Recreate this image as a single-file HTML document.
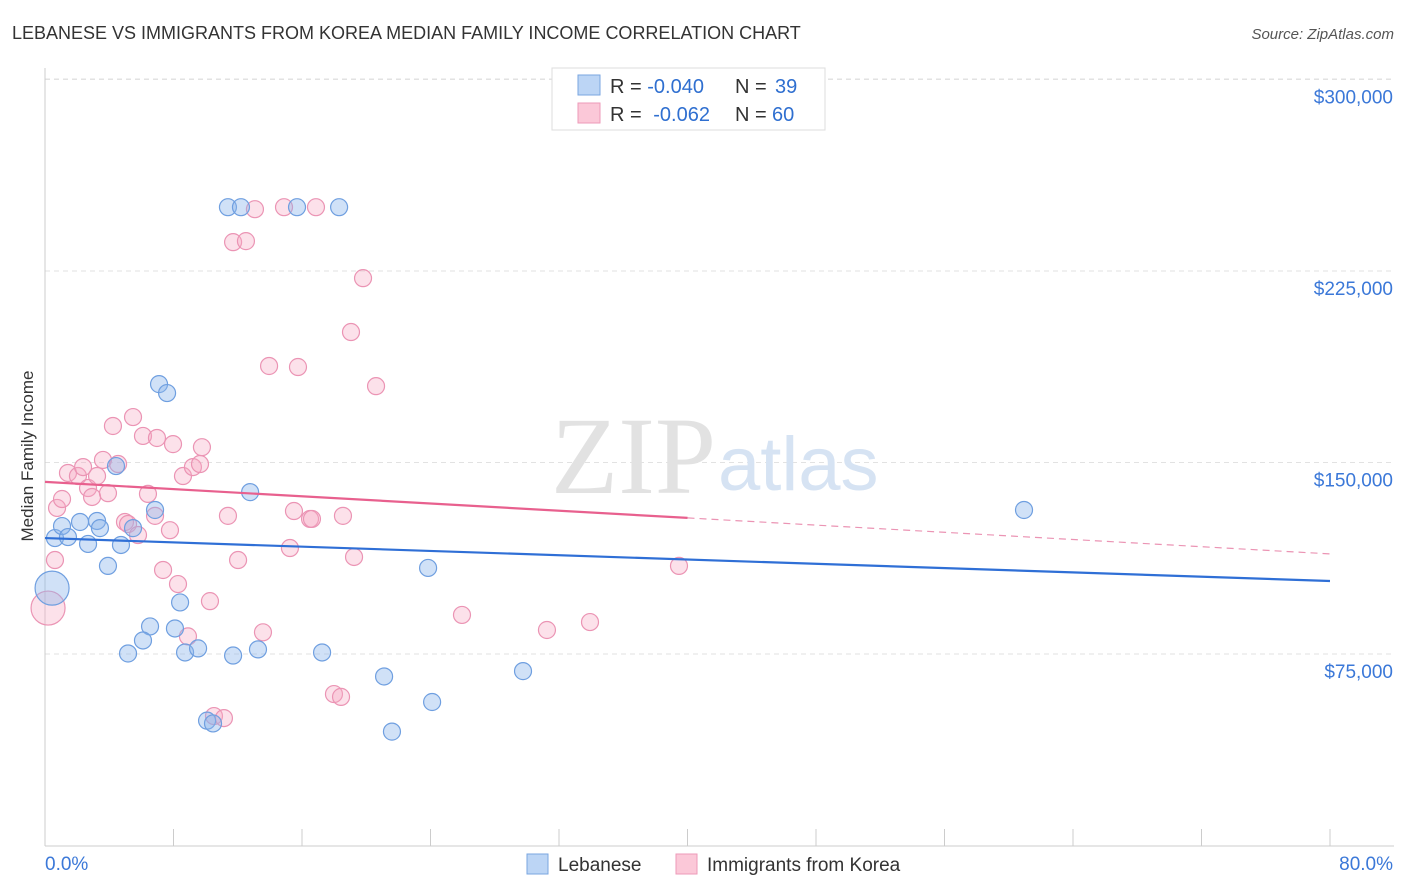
<!DOCTYPE html>
<html><head><meta charset="utf-8"><style>
body{margin:0;background:#fff;font-family:"Liberation Sans",sans-serif;}
svg{display:block}
</style></head><body>
<svg id="chart" width="1406" height="892">
<text x="12" y="39" font-size="18" fill="#333">LEBANESE VS IMMIGRANTS FROM KOREA MEDIAN FAMILY INCOME CORRELATION CHART</text>
<text x="1394" y="39" font-size="15" fill="#555" font-style="italic" text-anchor="end">Source: ZipAtlas.com</text>
<text x="33" y="456" font-size="17" fill="#333" text-anchor="middle" transform="rotate(-90 33 456)">Median Family Income</text>
<g id="grid"></g>
<text x="716" y="493" font-size="110" fill="#e2e2e2" text-anchor="end" font-family="Liberation Serif,serif">ZIP</text>
<text x="718" y="490" font-size="76" fill="#d6e3f3">atlas</text>
<g id="marks"></g>
<g>
<rect x="552" y="68" width="273" height="62" fill="#fff" stroke="#ddd"/>
<rect x="578" y="75" width="22" height="20" fill="#bcd5f5" stroke="#7aa6e0"/>
<rect x="578" y="103" width="22" height="20" fill="#fbc8d8" stroke="#ee9ab8"/>
<text x="610" y="93" font-size="20" fill="#333">R = <tspan fill="#2f6fd0">-0.040</tspan><tspan x="735">N = </tspan><tspan fill="#2f6fd0" x="775">39</tspan></text>
<text x="610" y="121" font-size="20" fill="#333">R = <tspan fill="#2f6fd0" dx="6">-0.062</tspan><tspan x="735">N = </tspan><tspan fill="#2f6fd0" x="772">60</tspan></text>
</g>
<g>
<rect x="527" y="854" width="21" height="20" fill="#bcd5f5" stroke="#7aa6e0"/>
<text x="558" y="871" font-size="19" fill="#333">Lebanese</text>
<rect x="676" y="854" width="21" height="20" fill="#fbc8d8" stroke="#ee9ab8"/>
<text x="707" y="871" font-size="19" fill="#333">Immigrants from Korea</text>
</g>
</svg>
<script>
const yTicks=[75000,150000,225000,300000];
const yTickLabels=["$75,000","$150,000","$225,000","$300,000"];
const xEndLabels=["0.0%","80.0%"];
const blueX=[0.44,0.62,1.06,1.43,2.18,2.68,3.24,3.42,3.92,4.42,4.73,5.48,6.54,6.10,5.17,6.85,7.10,7.60,8.09,8.41,8.72,9.53,10.09,10.46,11.39,12.20,11.71,12.77,13.26,15.69,17.25,18.31,21.11,21.60,23.85,24.10,29.76,60.95];
const blueY=[100800,120400,125100,120800,126700,118100,127100,124300,109500,148600,117700,124300,85800,80300,75200,131400,180700,177200,85000,95200,75600,77200,48900,47800,250000,250000,74400,138400,76800,250000,75600,250000,66200,44600,108700,56200,68300,131400];
const pinkX=[0.19,0.62,0.75,1.06,1.43,2.05,2.37,2.68,2.93,3.24,3.61,3.92,4.23,4.55,4.98,5.17,5.48,5.79,6.10,6.41,6.85,6.97,7.35,7.78,7.97,8.28,8.59,8.90,9.21,9.65,9.77,10.27,10.52,11.14,11.39,11.71,12.02,12.51,13.07,13.57,13.95,14.88,15.25,15.50,15.75,16.50,16.62,16.87,17.99,18.43,18.55,19.05,19.24,19.80,20.61,25.96,31.25,33.93,39.47];
const pinkY=[93000,111800,132200,135700,145900,144700,148200,140000,136500,144700,151000,138000,164300,149400,126700,125900,167800,121600,160400,137700,129100,159600,107900,123500,157200,102400,144700,81900,148200,149400,156000,95700,50700,49900,129100,236300,111800,236700,249200,83500,187800,250000,116500,131000,187400,127900,127900,250000,59300,58200,129100,201100,113000,222200,179900,90300,84400,87500,109500];
const blueTrend=[120400,103600];
const pinkTrend=[142400,114200];

const X0=45,X1=1330,Y0=845.5,PXPER=191.5/75000;
const sx=v=>X0+(v/80)*(X1-X0);
const sy=v=>Y0-v*PXPER;
const NS="http://www.w3.org/2000/svg";
const grid=document.getElementById('grid'),marks=document.getElementById('marks');
function mk(tag,attrs,parent){const e=document.createElementNS(NS,tag);for(const k in attrs)e.setAttribute(k,attrs[k]);parent.appendChild(e);return e;}
yTicks.forEach((t,i)=>{
 const l=mk('line',{x1:45,x2:1394,y1:sy(t),y2:sy(t),stroke:'#e2e2e2','stroke-dasharray':'5,4'},grid);
 
 
 const tx=mk('text',{x:1393,y:sy(t)+24,'font-size':19,fill:'#3b78d8','text-anchor':'end'},grid);
 tx.textContent=yTickLabels[i];
 
 
});
const topl=mk('line',{x1:45,x2:1394,y1:79,y2:79,stroke:'#e2e2e2','stroke-dasharray':'5,4'},grid);


const ya=mk('line',{x1:45,x2:45,y1:68,y2:846,stroke:'#ccc'},grid);


const xa=mk('line',{x1:45,x2:1394,y1:846,y2:846,stroke:'#ccc'},grid);


for(let i=0;i<=10;i++){
 const t=mk('line',{x1:sx(i*8),x2:sx(i*8),y1:829,y2:846,stroke:'#ccc'},grid);
 
 
}
const xl0=mk('text',{x:45,y:870,'font-size':19,fill:'#3b78d8'},grid);xl0.textContent=xEndLabels[0];


const xl1=mk('text',{x:1393,y:870,'font-size':19,fill:'#3b78d8','text-anchor':'end'},grid);xl1.textContent=xEndLabels[1];


function pts(xs,ys,fill,stroke,name){
 xs.forEach((x,i)=>{
  const r=(i===0)?17:8.5;
  const c=mk('circle',{cx:sx(x),cy:sy(ys[i]),r:r,fill:fill,stroke:stroke,'stroke-width':1.2},marks);
  
  
 });
}
pts(pinkX,pinkY,'rgba(247,170,195,0.35)','#eb94b4','korea-point');
pts(blueX,blueY,'rgba(137,180,236,0.4)','#6f9fe0','lebanese-point');
const bt=mk('line',{x1:sx(0),y1:sy(blueTrend[0]),x2:sx(80),y2:sy(blueTrend[1]),stroke:'#2f6fd6','stroke-width':2.2},marks);


const pm=pinkTrend[0]+(pinkTrend[1]-pinkTrend[0])*0.5;
const pt=mk('line',{x1:sx(0),y1:sy(pinkTrend[0]),x2:sx(40),y2:sy(pm),stroke:'#e8608e','stroke-width':2.2},marks);


const pd=mk('line',{x1:sx(40),y1:sy(pm),x2:sx(80),y2:sy(pinkTrend[1]),stroke:'#eb94b4','stroke-width':1.2,'stroke-dasharray':'7,5'},marks);


</script>
</body></html>
